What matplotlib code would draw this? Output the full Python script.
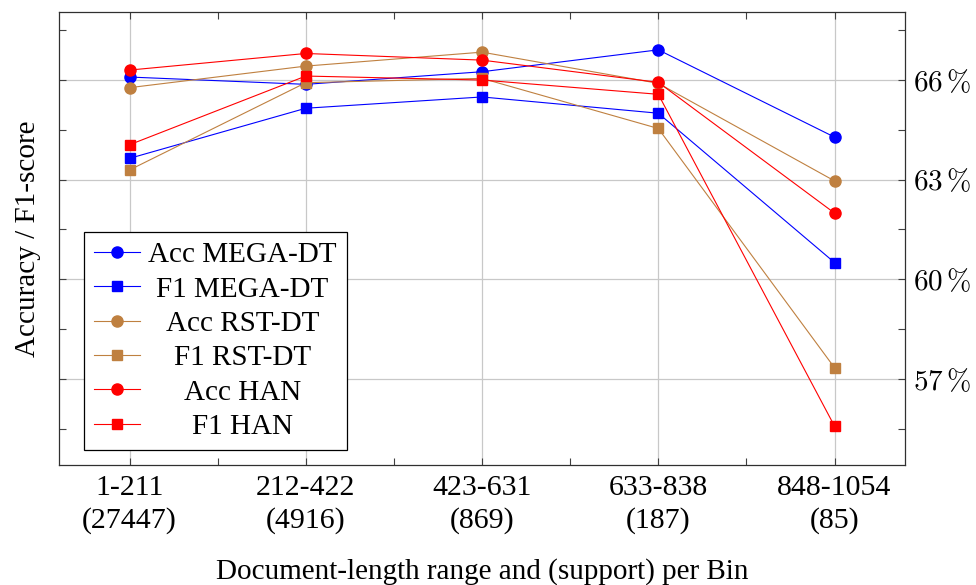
import numpy as np
import matplotlib.pyplot as plt
from matplotlib.ticker import FixedLocator, FuncFormatter
from matplotlib.transforms import IdentityTransform

plt.rcParams['font.family'] = ['Liberation Serif', 'DejaVu Serif']
plt.rcParams['mathtext.fontset'] = 'cm'

bins = ['1-211\n(27447)', '212-422\n(4916)', '423-631\n(869)', '633-838\n(187)', '848-1054\n(85)']

acc_mega = [66.09, 65.87, 66.25, 66.91, 64.28]
f1_mega = [63.64, 65.15, 65.49, 65.00, 60.50]
acc_rst = [65.77, 66.42, 66.84, 65.90, 62.96]
f1_rst = [63.29, 65.92, 66.05, 64.54, 57.33]
acc_han = [66.30, 66.80, 66.60, 65.93, 61.99]
f1_han = [64.05, 66.12, 66.00, 65.57, 55.57]

BLUE = '#0000ff'
BROWN = '#bf8040'
RED = '#ff0000'

series = [
    ('Acc MEGA-DT', acc_mega, BLUE, 'o'),
    ('F1 MEGA-DT', f1_mega, BLUE, 's'),
    ('Acc RST-DT', acc_rst, BROWN, 'o'),
    ('F1 RST-DT', f1_rst, BROWN, 's'),
    ('Acc HAN', acc_han, RED, 'o'),
    ('F1 HAN', f1_han, RED, 's'),
]

FS = 21

fig = plt.figure(figsize=(9.76, 5.85), dpi=100)
ax = fig.add_axes([0.0605, 0.2051, 0.8668, 0.7744])

x = np.arange(len(bins))
for label, vals, col, mk in series:
    ax.plot(x, vals, color=col, lw=0.8, marker=mk,
            markersize=8 if mk == 'o' else 7.5, label=label)

ax.set_xlim(-0.4, 4.4)
ax.set_ylim(54.4, 68.05)

ax.set_xticks(x)
ax.set_xticklabels(bins, fontsize=FS + 0.5, linespacing=1.33)
ax.xaxis.set_minor_locator(FixedLocator(x[:-1] + 0.5))
ax.set_yticks([57, 60, 63, 66])
ax.yaxis.set_minor_locator(FixedLocator([55.5, 58.5, 61.5, 64.5, 67.5]))
ax.yaxis.set_major_formatter(FuncFormatter(lambda v, p: r'$%d\,\%%$' % v))

ax.tick_params(axis='both', which='both', direction='in', top=True, bottom=True,
               left=True, right=True, labelleft=False, labelright=True,
               color='#404040', width=0.8, length=5)
ax.tick_params(axis='x', which='major', pad=7)
ax.tick_params(axis='y', which='major', pad=6, labelsize=FS)

ax.grid(True, which='major', color='#c8c8c8', lw=0.9)
ax.set_axisbelow(True)
for s in ax.spines.values():
    s.set_color('#303030')
    s.set_linewidth(0.9)

ax.set_xlabel('Document-length range and (support) per Bin', fontsize=FS, labelpad=17)
ax.set_ylabel('Accuracy / F1-score', fontsize=FS, labelpad=13)

leg = ax.legend(loc='lower left', bbox_to_anchor=(0.0296, 0.033), fontsize=FS,
                fancybox=False, framealpha=1, edgecolor='black',
                handlelength=1.55, handletextpad=0.3, labelspacing=0.27,
                borderpad=0.35, borderaxespad=0)
leg.get_frame().set_linewidth(0.9)

# centre the legend labels like pgfplots does
fig.canvas.draw()
texts = leg.get_texts()
boxes = [t.get_window_extent() for t in texts]
left = min(b.x0 for b in boxes)
right = max(b.x1 for b in boxes)
for t in texts:
    px, py = t.get_transform().transform(t.get_position())
    t.set_visible(False)
    fig.text((left + right) / 2, py, t.get_text(), transform=IdentityTransform(),
             ha='center', va='baseline', fontsize=FS)

fig.savefig('out.png', dpi=100)
